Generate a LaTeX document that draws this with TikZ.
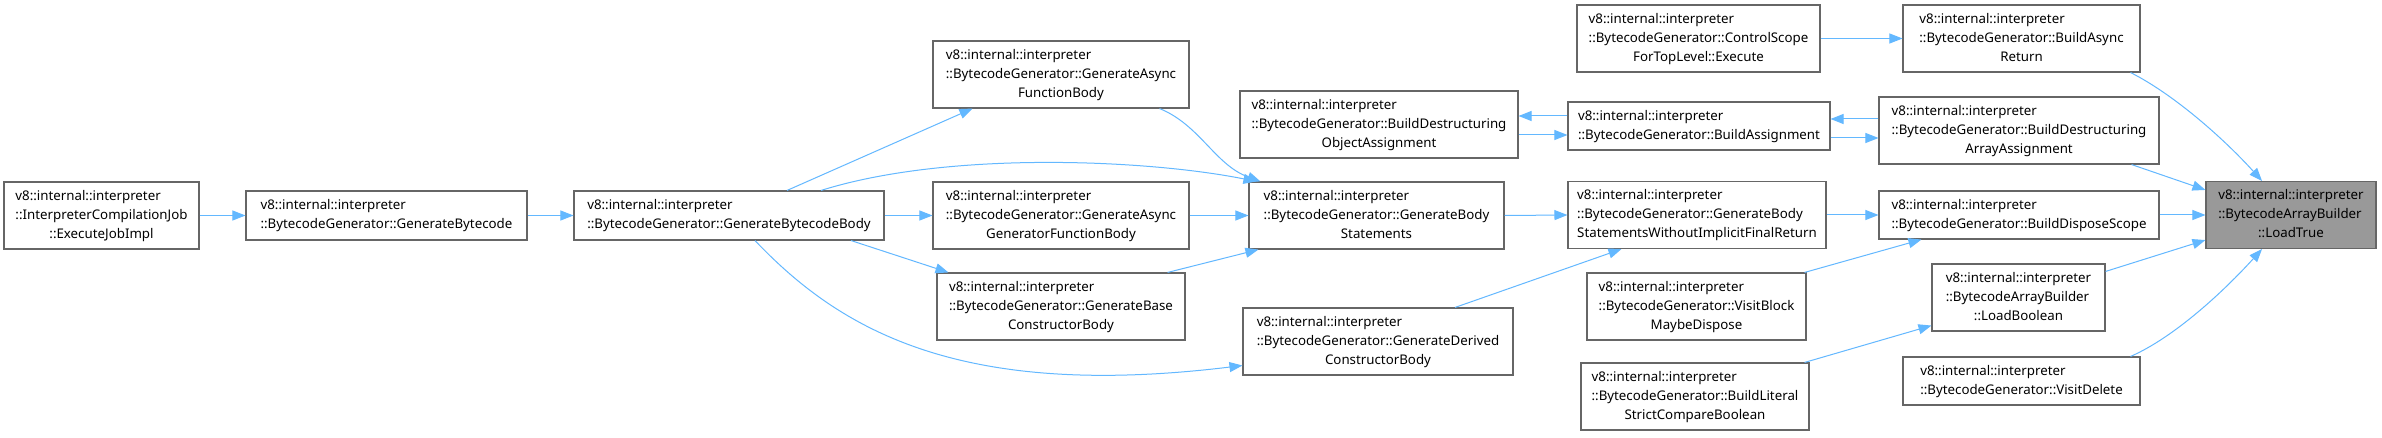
\documentclass[tikz,border=0pt]{standalone}
\usepackage{fontspec}
\setmainfont{Noto Sans}
\usetikzlibrary{arrows.meta,calc}
\definecolor{edgecol}{HTML}{63B8FF}
\definecolor{boxcol}{HTML}{666666}
\definecolor{hicol}{HTML}{999999}
\newcommand{\twol}[2]{\begin{tabular}{@{}l@{}}#1\\#2\end{tabular}}
\newcommand{\threel}[3]{\begin{tabular}{@{}l@{}}#1\\#2\\\multicolumn{1}{@{}c@{}}{#3}\end{tabular}}
\tikzset{
  fn/.style={draw=boxcol, line width=1.1pt, fill=white, inner sep=0pt, align=center,
    font=\fontsize{13.3}{19}\selectfont},
  hi/.style={fn, fill=hicol},
  edge/.style={draw=edgecol, line width=1pt, -{Triangle[length=13pt,width=10pt]}}
}
\begin{document}
\begin{tikzpicture}[x=1pt,y=-1pt]
\useasboundingbox[fill=white] (0,0) rectangle (2382,438);
\def\I{v8::internal::interpreter}
\node[fn, minimum width=195pt, minimum height=67pt] (job) at (101.5,215.5) {\threel{\I}{::InterpreterCompilationJob}{::ExecuteJobImpl}};
\node[fn, minimum width=281pt, minimum height=49pt] (gen) at (386.5,215.5) {\twol{\I}{::BytecodeGenerator::GenerateBytecode}};
\node[fn, minimum width=310pt, minimum height=49pt] (body) at (729,215.5) {\twol{\I}{::BytecodeGenerator::GenerateBytecodeBody}};
\node[fn, minimum width=256pt, minimum height=67pt] (asyncfn) at (1061,74.5) {\threel{\I}{::BytecodeGenerator::GenerateAsync}{FunctionBody}};
\node[fn, minimum width=256pt, minimum height=67pt] (asyncgen) at (1061,215.5) {\threel{\I}{::BytecodeGenerator::GenerateAsync}{GeneratorFunctionBody}};
\node[fn, minimum width=248pt, minimum height=67pt] (base) at (1061,306.5) {\threel{\I}{::BytecodeGenerator::GenerateBase}{ConstructorBody}};
\node[fn, minimum width=255pt, minimum height=67pt] (stmts) at (1376.5,215.5) {\threel{\I}{::BytecodeGenerator::GenerateBody}{Statements}};
\node[fn, minimum width=278pt, minimum height=67pt] (objassign) at (1379,124.5) {\threel{\I}{::BytecodeGenerator::BuildDestructuring}{ObjectAssignment}};
\node[fn, minimum width=270pt, minimum height=67pt] (derived) at (1378,341.5) {\threel{\I}{::BytecodeGenerator::GenerateDerived}{ConstructorBody}};
\node[fn, minimum width=243pt, minimum height=67pt] (control) at (1698.5,38.5) {\threel{\I}{::BytecodeGenerator::ControlScope}{ForTopLevel::Execute}};
\node[fn, minimum width=262pt, minimum height=48pt] (assign) at (1699,126) {\twol{\I}{::BytecodeGenerator::BuildAssignment}};
\node[fn, minimum width=258pt, minimum height=67pt] (without) at (1697,215) {\threel{\I}{::BytecodeGenerator::GenerateBody}{StatementsWithoutImplicitFinalReturn}};
\node[fn, minimum width=219pt, minimum height=67pt] (visitblock) at (1696.5,306.5) {\threel{\I}{::BytecodeGenerator::VisitBlock}{MaybeDispose}};
\node[fn, minimum width=228pt, minimum height=67pt] (literal) at (1695,396.5) {\threel{\I}{::BytecodeGenerator::BuildLiteral}{StrictCompareBoolean}};
\node[fn, minimum width=237pt, minimum height=67pt] (asyncret) at (2021.5,38.5) {\threel{\I}{::BytecodeGenerator::BuildAsync}{Return}};
\node[fn, minimum width=280pt, minimum height=67pt] (arrayassign) at (2019,130.5) {\threel{\I}{::BytecodeGenerator::BuildDestructuring}{ArrayAssignment}};
\node[fn, minimum width=280pt, minimum height=48pt] (dispose) at (2019,215) {\twol{\I}{::BytecodeGenerator::BuildDisposeScope}};
\node[fn, minimum width=173pt, minimum height=67pt] (loadbool) at (2018.5,297.5) {\threel{\I}{::BytecodeArrayBuilder}{::LoadBoolean}};
\node[fn, minimum width=237pt, minimum height=48pt] (visitdelete) at (2021.5,381) {\twol{\I}{::BytecodeGenerator::VisitDelete}};
\node[hi, minimum width=170pt, minimum height=67pt] (loadtrue) at (2291,215) {\threel{\I}{::BytecodeArrayBuilder}{::LoadTrue}};

\draw[edge] (job.east) -- (gen.west);
\draw[edge] (gen.east) -- (body.west);
\draw[edge] ($(body.north)+(58,0)$) -- ($(asyncfn.south west)+(40,0)$);
\draw[edge] ($(body.north)+(92,0)$) .. controls (950,150) and (1150,160) .. ($(stmts.north west)+(8,0)$);
\draw[edge] (body.east) -- (asyncgen.west);
\draw[edge] ($(body.south)+(122,0)$) -- ($(base.north west)+(12,0)$);
\draw[edge] ($(body.south)+(26,0)$) .. controls (840,330) and (960,400) .. ($(derived.west)+(0,24)$);
\draw[edge] ($(asyncfn.south east)+(-30,0)$) .. controls (1200,125) and (1215,165) .. ($(stmts.north west)+(12,0)$);
\draw[edge] (asyncgen.east) -- (stmts.west);
\draw[edge] ($(base.north east)+(-18,0)$) -- ($(stmts.south west)+(10,0)$);
\draw[edge] (stmts.east) -- (without.west);
\draw[edge] ($(derived.north)+(77,0)$) -- ($(without.south west)+(54,0)$);
\draw[edge] (without.east) -- (dispose.west);
\draw[edge] ($(visitblock.north east)+(-2,0)$) -- ($(dispose.south west)+(43,0)$);
\draw[edge] ([yshift=10pt]assign.west) -- ([yshift=10pt]assign.west -| objassign.east);
\draw[edge] ([yshift=-9pt]assign.west -| objassign.east) -- ([yshift=-9pt]assign.west);
\draw[edge] ([yshift=7pt]assign.east -| arrayassign.west) -- ([yshift=7pt]assign.east);
\draw[edge] ([yshift=-12pt]assign.east) -- ([yshift=-12pt]assign.east -| arrayassign.west);
\draw[edge] (control.east) -- (asyncret.west);
\draw[edge] ($(asyncret.south east)+(-10,0)$) .. controls (2175,95) and (2225,140) .. ($(loadtrue.north)+(-29,0)$);
\draw[edge] ($(arrayassign.south east)+(-28,0)$) -- ($(loadtrue.north west)+(0,9)$);
\draw[edge] (dispose.east) -- (loadtrue.west);
\draw[edge] ($(loadbool.north east)+(0,8)$) -- ($(loadtrue.south west)+(0,-9)$);
\draw[edge] ($(visitdelete.north east)+(-10,0)$) .. controls (2175,337) and (2225,290) .. ($(loadtrue.south)+(-29,0)$);
\draw[edge] ($(literal.north east)+(-5,0)$) -- ($(loadbool.south west)+(0,-6)$);
\end{tikzpicture}
\end{document}
